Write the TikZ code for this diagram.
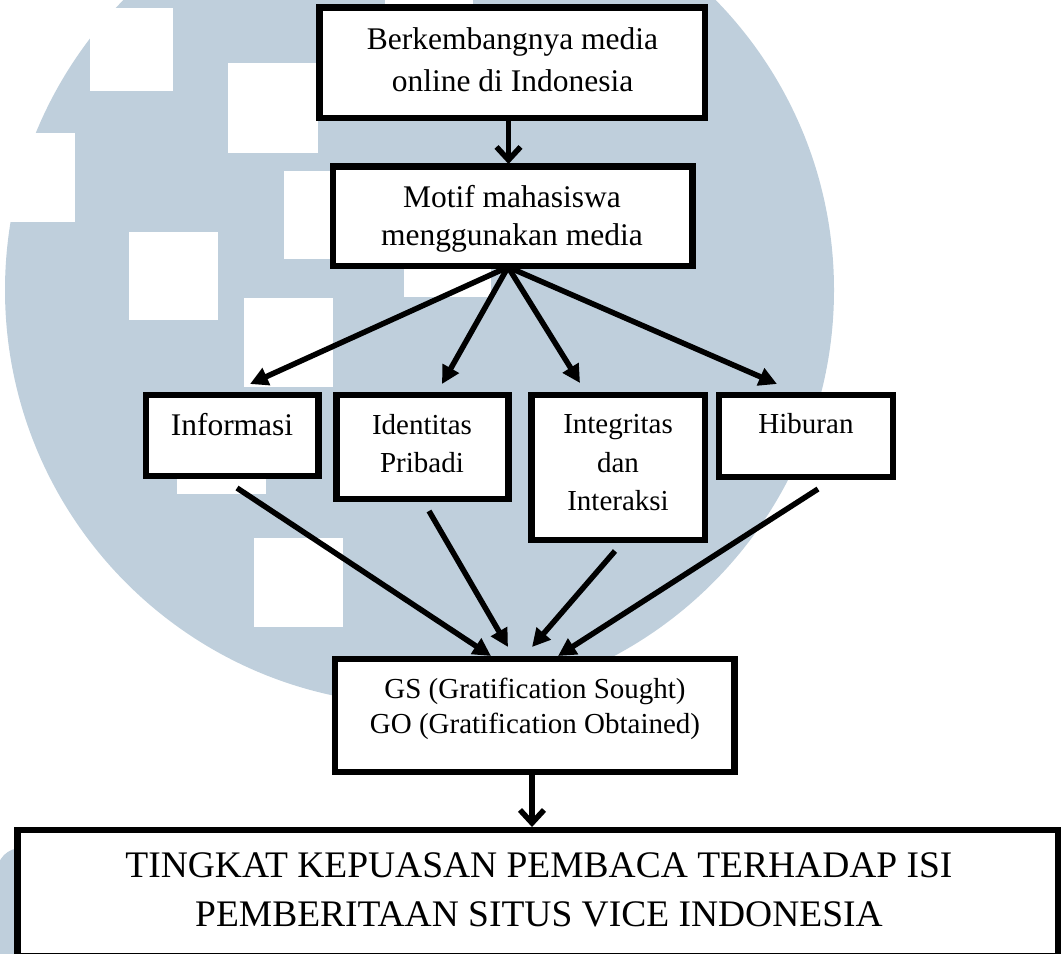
\documentclass[tikz,border=0pt]{standalone}
\usepackage{fontspec}
\setmainfont{Liberation Serif}
\usetikzlibrary{arrows.meta}
\definecolor{wm}{RGB}{191,207,220}
\begin{document}
\begin{tikzpicture}[x=1pt,y=-1pt,
  boxnode/.style={draw=black, fill=white, line width=6.5pt, inner sep=0pt, outer sep=0pt},
  txtA/.style={inner sep=0pt, anchor=base, font=\fontsize{31.5}{38}\selectfont},
  txtB/.style={inner sep=0pt, anchor=base, font=\fontsize{29}{35}\selectfont},
  txtC/.style={inner sep=0pt, anchor=base, font=\fontsize{37.5}{45}\selectfont},
  fanarrow/.style={line width=5.5pt, -{Triangle[length=18pt,width=18pt]}},
  downarrow/.style={line width=5.5pt, -{Straight Barb[length=13pt,width=24pt]}},
  sq/.style={fill=white}
]
\useasboundingbox (0,0) rectangle (1064,953);
% watermark
\fill[wm] (419.5,290) circle[radius=414.5pt];
\fill[wm, rounded corners=24pt] (-3,848) rectangle (300,1000);
\fill[sq] (90,8) rectangle (173,91);
\fill[sq] (228,63) rectangle (318,153);
\fill[sq] (-20,133) rectangle (75,222);
\fill[sq] (284,171) rectangle (373,259);
\fill[sq] (129,232) rectangle (218,320);
\fill[sq] (244,298) rectangle (333,387);
\fill[sq] (404,208) rectangle (491,297);
\fill[sq] (177,405) rectangle (266,494);
\fill[sq] (254,538) rectangle (343,627);
\fill[sq] (385,-80) rectangle (473,20);

% boxes
\node[boxnode, minimum width=385.5pt, minimum height=110.5pt] (b1) at (512.25,62.75) {};
\node[boxnode, minimum width=359.5pt, minimum height=99.5pt] (b2) at (512.75,216.25) {};
\node[boxnode, minimum width=172.5pt, minimum height=81pt] (inf) at (232.25,435.5) {};
\node[boxnode, minimum width=172pt, minimum height=104pt] (ide) at (422.5,447) {};
\node[boxnode, minimum width=173.5pt, minimum height=145pt] (int) at (618.25,467.5) {};
\node[boxnode, minimum width=174pt, minimum height=82pt] (hib) at (806,436) {};
\node[boxnode, minimum width=399.5pt, minimum height=113pt] (gs) at (534.75,715.5) {};
\node[boxnode, minimum width=1040.5pt, minimum height=126pt] (fin) at (537.75,893) {};

% texts
\node[txtA] (t1a) at (512.5,49) {Berkembangnya media};
\node[txtA] (t1b) at (512.5,91) {online di Indonesia};
\node[txtA] (t2a) at (512,207) {Motif mahasiswa};
\node[txtA] (t2b) at (512,245) {menggunakan media};
\node[txtA] (tinf) at (232,435) {Informasi};
\node[txtB] (tide1) at (422,434) {Identitas};
\node[txtB] (tide2) at (422,472) {Pribadi};
\node[txtB] (tint1) at (618,433) {Integritas};
\node[txtB] (tint2) at (618,472) {dan};
\node[txtB] (tint3) at (618,510) {Interaksi};
\node[txtB] (thib) at (806,433) {Hiburan};
\node[txtB] (tgs1) at (535,698) {GS (Gratification Sought)};
\node[txtB] (tgs2) at (535,733) {GO (Gratification Obtained)};
\node[txtC] (tf1) at (539,877) {TINGKAT KEPUASAN PEMBACA TERHADAP ISI};
\node[txtC] (tf2) at (539,926) {PEMBERITAAN SITUS VICE INDONESIA};

% connector end points
\coordinate (a1s) at (508.5,118);
\coordinate (a1e) at (508.5,164);
\coordinate (fo) at (508,267);
\coordinate (ti) at (250,384);
\coordinate (td) at (442,384);
\coordinate (tn) at (580,383);
\coordinate (th) at (777,384);
\coordinate (si) at (237,488);
\coordinate (sd) at (429,511);
\coordinate (sn) at (615,551);
\coordinate (sh) at (818,489);
\coordinate (gi) at (491,656);
\coordinate (gd) at (508,647);
\coordinate (gn) at (532,647);
\coordinate (gh) at (558,656);
\coordinate (a2s) at (532,772);
\coordinate (a2e) at (532,827);

\draw[downarrow] (a1s) -- (a1e);
\draw[fanarrow] (fo) -- (ti);
\draw[fanarrow] (fo) -- (td);
\draw[fanarrow] (fo) -- (tn);
\draw[fanarrow] (fo) -- (th);
\draw[fanarrow] (si) -- (gi);
\draw[fanarrow] (sd) -- (gd);
\draw[fanarrow] (sn) -- (gn);
\draw[fanarrow] (sh) -- (gh);
\draw[downarrow] (a2s) -- (a2e);
\end{tikzpicture}
\end{document}
